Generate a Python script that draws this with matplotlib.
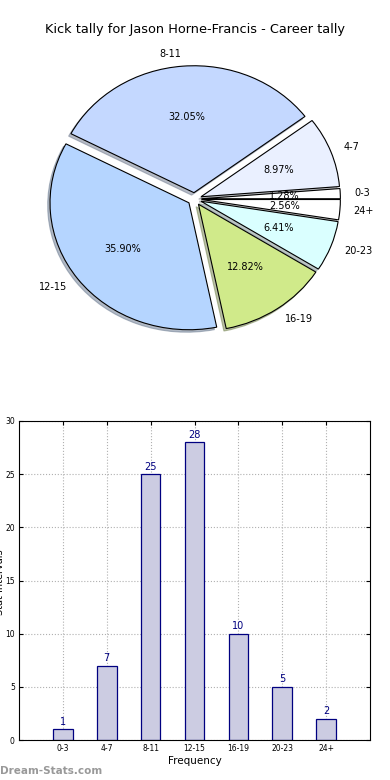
import matplotlib
matplotlib.use("Agg")
import matplotlib.pyplot as plt

categories = ["0-3", "4-7", "8-11", "12-15", "16-19", "20-23", "24+"]
counts = [1, 7, 25, 28, 10, 5, 2]
pie_colors = ["#ffffff", "#eaf0ff", "#c4d8ff", "#b5d5ff", "#d0ea8a", "#daffff", "#ffffff"]
title = "Kick tally for Jason Horne-Francis - Career tally"
yticks = [0, 5, 10, 15, 20, 25, 30]

W, H = 390, 780
fig = plt.figure(figsize=(W / 100, H / 100), dpi=100)

# ---- Pie ----
axp = fig.add_axes([0, 1 - 364 / H, 389 / W, 330 / H])
wedges, texts, autotexts = axp.pie(
    counts, labels=categories, colors=pie_colors, autopct="%1.2f%%",
    explode=[0.05] * len(counts),
    shadow=dict(ox=-0.012, oy=-0.014, shade=0.45),
    startangle=0,
    wedgeprops=dict(edgecolor="black", linewidth=0.8),
    textprops=dict(fontsize=7),
)
for t in autotexts:
    t.set_fontsize(7)
axp.set_aspect("auto")
axp.set_xlim(-1.4, 1.4)
axp.set_ylim(-1.3, 1.3)
axp.axis("off")
fig.text(0.5, 1 - 30 / H, title, ha="center", va="center", fontsize=9.3)

# ---- Bars ----
axb = fig.add_axes([19 / W, 1 - 740 / H, 351 / W, 319 / H])
x = list(range(len(categories)))
bars = axb.bar(x, counts, width=0.45, color="#ccccE2", edgecolor="#000080", linewidth=0.9)
for xi, v in zip(x, counts):
    axb.text(xi, v + 0.25, str(v), ha="center", va="bottom", color="#000080", fontsize=7)
axb.set_xlim(-1, 7)
axb.set_ylim(0, 30)
axb.set_xticks(x)
axb.set_xticklabels(categories, fontsize=5.5)
axb.set_yticks(yticks)
axb.set_yticklabels([str(v) for v in yticks], fontsize=5.5)
axb.tick_params(direction="in", top=True, right=True, length=3, pad=3)
axb.grid(True, linestyle=":", color="#b0b0b0", linewidth=0.8)
axb.set_axisbelow(True)
axb.set_xlabel("Frequency", fontsize=7.5, labelpad=2)
fig.text(0.5 / W, 1 - 582 / H, "Stat Intervals", rotation=90, ha="center", va="center", fontsize=7)

fig.text(0, 1 - 771 / H, "Dream-Stats.com", ha="left", va="center", fontsize=7.5,
         color="#999999", fontweight="bold")

fig.savefig("out.png", dpi=100)
